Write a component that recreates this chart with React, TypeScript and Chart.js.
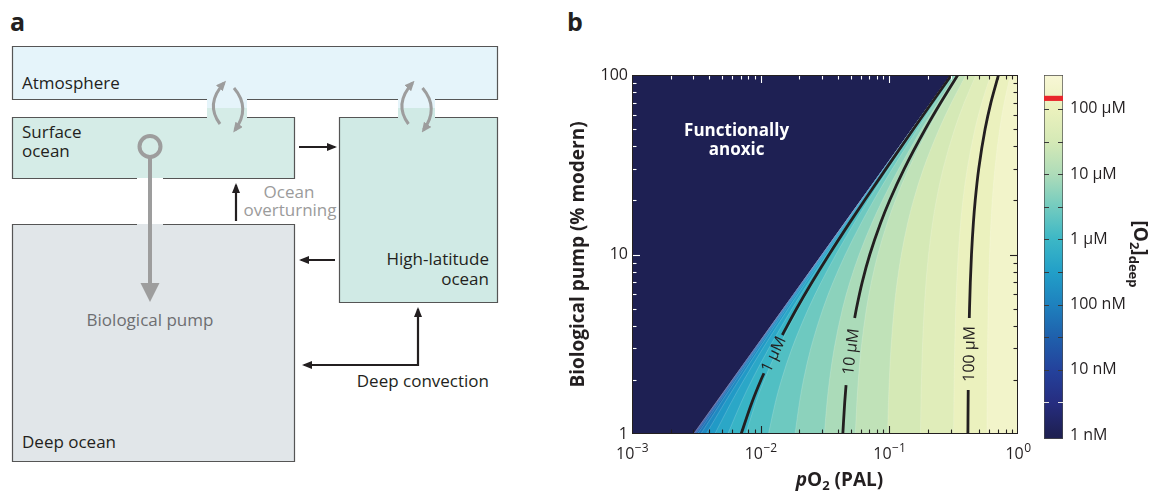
import React, { useEffect, useRef } from 'react';
import { Chart, registerables } from 'chart.js';

Chart.register(...registerables);

const FONT = "'Open Sans', 'Noto Sans', sans-serif";
const INK = '#231f20';
const NAVY = '#1e2053';

// ---------------- Panel b data ----------------
// Biological pump (% modern) at which each contour position was read
const pumpLevels = [1, 1.5, 2, 3, 5, 7, 10, 15, 20, 30, 50, 70, 100];

// filled-contour levels of [O2]deep (nM)
const contourLevelsNM = [1.55, 2.82, 5.15, 9.4, 17.1, 31.3, 57.0, 104, 190, 346, 631, 1151, 2100, 3830, 6980, 12700, 23200, 42400, 77300, 141000];
const fieldMaxNM = 246000;

// pO2 (PAL) of each contour level at each pump level
const contourPO2 = [
  [0.003006, 0.004506, 0.006006, 0.009006, 0.01501, 0.02101, 0.03001, 0.04501, 0.06001, 0.09001, 0.15001, 0.21001, 0.30001],
  [0.003011, 0.004511, 0.006011, 0.009011, 0.01501, 0.02101, 0.03001, 0.04501, 0.06001, 0.09001, 0.15001, 0.21001, 0.30001],
  [0.003021, 0.004521, 0.006021, 0.009021, 0.01502, 0.02102, 0.03002, 0.04502, 0.06002, 0.09002, 0.15002, 0.21002, 0.30002],
  [0.003038, 0.004538, 0.006038, 0.009038, 0.01504, 0.02104, 0.03004, 0.04504, 0.06004, 0.09004, 0.15004, 0.21004, 0.30004],
  [0.003069, 0.004569, 0.006069, 0.009069, 0.01507, 0.02107, 0.03007, 0.04507, 0.06007, 0.09007, 0.15007, 0.21007, 0.30007],
  [0.003127, 0.004627, 0.006127, 0.009127, 0.01513, 0.02113, 0.03013, 0.04513, 0.06013, 0.09013, 0.15013, 0.21013, 0.30013],
  [0.003231, 0.004731, 0.006231, 0.009231, 0.01523, 0.02123, 0.03023, 0.04523, 0.06023, 0.09023, 0.15023, 0.21023, 0.30023],
  [0.003421, 0.004921, 0.006421, 0.009421, 0.01542, 0.02142, 0.03042, 0.04542, 0.06042, 0.09042, 0.15042, 0.21042, 0.30042],
  [0.003769, 0.005269, 0.006769, 0.009769, 0.01577, 0.02177, 0.03077, 0.04577, 0.06077, 0.09077, 0.15077, 0.21077, 0.30077],
  [0.004401, 0.005901, 0.007401, 0.010401, 0.0164, 0.0224, 0.0314, 0.0464, 0.0614, 0.0914, 0.1514, 0.2114, 0.3014],
  [0.005555, 0.007055, 0.008555, 0.01156, 0.01756, 0.02356, 0.03256, 0.04756, 0.06256, 0.09256, 0.15256, 0.21256, 0.30256],
  [0.00766, 0.00916, 0.01066, 0.01366, 0.01966, 0.02566, 0.03466, 0.04966, 0.06466, 0.09466, 0.15466, 0.21466, 0.30466],
  [0.0115, 0.013, 0.0145, 0.0175, 0.0235, 0.0295, 0.0385, 0.0535, 0.0685, 0.0985, 0.1585, 0.2185, 0.3085],
  [0.01851, 0.02001, 0.02151, 0.02451, 0.03051, 0.03651, 0.04551, 0.06051, 0.07551, 0.1055, 0.1655, 0.2255, 0.3155],
  [0.03126, 0.03276, 0.03426, 0.03726, 0.04326, 0.04926, 0.05826, 0.07326, 0.08826, 0.1183, 0.1783, 0.2383, 0.3283],
  [0.0544, 0.0559, 0.0574, 0.0604, 0.0664, 0.0724, 0.0814, 0.0964, 0.1114, 0.1414, 0.2014, 0.2614, 0.3514],
  [0.0969, 0.0984, 0.0999, 0.1029, 0.1089, 0.1149, 0.1239, 0.1389, 0.1539, 0.1839, 0.2439, 0.3039, 0.3939],
  [0.1747, 0.1762, 0.1777, 0.1807, 0.1867, 0.1927, 0.2017, 0.2167, 0.2317, 0.2617, 0.3217, 0.3817, 0.4717],
  [0.316, 0.3175, 0.319, 0.322, 0.328, 0.334, 0.343, 0.358, 0.373, 0.403, 0.463, 0.523, 0.613],
  [0.5739, 0.5754, 0.5769, 0.5799, 0.5859, 0.5919, 0.6009, 0.6159, 0.6309, 0.6609, 0.7209, 0.7809, 0.8709],
];

// labelled black contours (split where the label sits)
const labelledNames = ['1 µM', '10 µM', '100 µM'];
const labelledLowerP = [[1, 1.5, 2, 2.18], [1, 1.5, 1.87], [1, 1.5, 1.76]];
const labelledLowerX = [[0.00705, 0.00855, 0.01005, 0.0106], [0.0435, 0.045, 0.0461], [0.408, 0.4095, 0.4103]];
const labelledUpperP = [
  [3.56, 5, 7, 10, 15, 20, 30, 50, 70, 100],
  [4.43, 5, 7, 10, 15, 20, 30, 50, 70, 100],
  [4.43, 5, 7, 10, 15, 20, 30, 50, 70, 100],
];
const labelledUpperX = [
  [0.01473, 0.01905, 0.02505, 0.03405, 0.04905, 0.06405, 0.09405, 0.154, 0.214, 0.304],
  [0.0538, 0.0555, 0.0615, 0.0705, 0.0855, 0.1005, 0.1305, 0.1905, 0.2505, 0.3405],
  [0.4183, 0.42, 0.426, 0.435, 0.45, 0.465, 0.495, 0.555, 0.615, 0.705],
];

// axes
const xRange = [0.001, 1];
const yRange = [1, 100];
const xTickValues = [0.001, 0.01, 0.1, 1];
const xTickExponents = ['−3', '−2', '−1', '0'];
const yTickValues = [1, 10, 100];
const yTickLabels = ['1', '10', '100'];
const anoxicLabelAt = { x: 0.0065, y: 44 };

// colour bar (nM)
const colorbarRange = [0.87, 331000];
const colorbarTickValues = [1, 10, 100, 1000, 10000, 100000];
const colorbarTickLabels = ['1 nM', '10 nM', '100 nM', '1 µM', '10 µM', '100 µM'];
const colorbarMinorTicks = [3.16, 10, 31.6, 100, 316, 1000, 3162, 10000, 31623, 100000];
const modernDeepO2 = [134000, 157000];

// ---------------- colour map (style) ----------------
const CMAP_STOPS: Array<[number, string]> = [
  [0.0, '#1e2053'], [0.5, '#262d80'], [1.0, '#24429c'], [1.5, '#1f60ac'], [2.0, '#1e81be'],
  [2.5, '#229fc8'], [3.0, '#3cb7c6'], [3.5, '#73cbbf'], [4.0, '#aedcb9'], [4.5, '#d5e9b6'],
  [5.0, '#ebf1bd'], [5.52, '#f8f7d6'],
];
function hexRgb(h: string) {
  return [parseInt(h.slice(1, 3), 16), parseInt(h.slice(3, 5), 16), parseInt(h.slice(5, 7), 16)];
}
function cmap(t: number): string {
  const s = CMAP_STOPS;
  if (t <= s[0][0]) return s[0][1];
  for (let i = 1; i < s.length; i++) {
    if (t <= s[i][0]) {
      const f = (t - s[i - 1][0]) / (s[i][0] - s[i - 1][0]);
      const a = hexRgb(s[i - 1][1]);
      const b = hexRgb(s[i][1]);
      const c = a.map((v, k) => Math.round(v + (b[k] - v) * f));
      return `rgb(${c[0]},${c[1]},${c[2]})`;
    }
  }
  return s[s.length - 1][1];
}

// ---------------- main chart ----------------
function buildMainConfig(): any {
  const n = contourPO2.length;
  const bands = contourPO2.map((xs, j) => {
    const lo = Math.log10(contourLevelsNM[j]);
    const hi = Math.log10(j + 1 < n ? contourLevelsNM[j + 1] : fieldMaxNM);
    return {
      data: pumpLevels.map((p, i) => ({ x: xs[i], y: p })),
      borderColor: 'rgba(255,255,255,0.28)',
      borderWidth: 0.6,
      backgroundColor: cmap((lo + hi) / 2),
      fill: { value: xRange[1] },
      pointRadius: 0,
      cubicInterpolationMode: 'monotone',
      clip: 0,
      order: 1 + (n - 1 - j),
    };
  });
  const lines: any[] = [];
  labelledNames.forEach((_, k) => {
    const segs = [
      [labelledLowerP[k], labelledLowerX[k]],
      [labelledUpperP[k], labelledUpperX[k]],
    ];
    segs.forEach(([ps, xs]) => {
      lines.push({
        data: ps.map((p, i) => ({ x: xs[i], y: p })),
        borderColor: INK,
        borderWidth: 2.8,
        fill: false,
        pointRadius: 0,
        cubicInterpolationMode: 'monotone',
        clip: 0,
        order: 0,
      });
    });
  });

  const decor = {
    id: 'mainDecor',
    beforeDatasetsDraw(chart: any) {
      const { ctx, chartArea: a } = chart;
      ctx.save();
      ctx.fillStyle = NAVY;
      ctx.fillRect(a.left, a.top, a.right - a.left, a.bottom - a.top);
      ctx.restore();
    },
    afterDatasetsDraw(chart: any) {
      const { ctx, chartArea: a, scales } = chart;
      const xs = scales.x;
      const ys = scales.y;
      ctx.save();
      // contour labels
      ctx.font = `16px ${FONT}`;
      ctx.fillStyle = INK;
      ctx.textAlign = 'center';
      ctx.textBaseline = 'middle';
      labelledNames.forEach((name, k) => {
        const lp = labelledLowerP[k];
        const lx = labelledLowerX[k];
        const x1 = xs.getPixelForValue(lx[lx.length - 1]);
        const y1 = ys.getPixelForValue(lp[lp.length - 1]);
        const x2 = xs.getPixelForValue(labelledUpperX[k][0]);
        const y2 = ys.getPixelForValue(labelledUpperP[k][0]);
        ctx.save();
        ctx.translate((x1 + x2) / 2, (y1 + y2) / 2);
        ctx.rotate(Math.atan2(y2 - y1, x2 - x1));
        ctx.fillText(name, 0, 1);
        ctx.restore();
      });
      // functionally anoxic
      const ax = xs.getPixelForValue(anoxicLabelAt.x);
      const ay = ys.getPixelForValue(anoxicLabelAt.y);
      ctx.fillStyle = '#ffffff';
      ctx.font = `bold 17px ${FONT}`;
      ctx.textBaseline = 'alphabetic';
      ctx.fillText('Functionally', ax, ay - 3.5);
      ctx.fillText('anoxic', ax, ay + 15.5);

      // inward ticks
      const tick = (x1: number, y1: number, x2: number, y2: number, c: string) => {
        ctx.strokeStyle = c;
        ctx.beginPath();
        ctx.moveTo(x1, y1);
        ctx.lineTo(x2, y2);
        ctx.stroke();
      };
      ctx.lineWidth = 1.1;
      const navyTop = contourPO2[0][pumpLevels.length - 1];
      const xt: Array<[number, boolean]> = [];
      for (let e = -3; e < 0; e++) {
        for (let m = 1; m <= 9; m++) {
          const v = m * Math.pow(10, e);
          if (v > xRange[0] * 1.0001) xt.push([v, m === 1]);
        }
      }
      xt.forEach(([v, major]) => {
        const len = major ? 8 : 4.5;
        const px = Math.round(xs.getPixelForValue(v)) + 0.5;
        tick(px, a.bottom, px, a.bottom - len, INK);
        tick(px, a.top, px, a.top + len, v < navyTop ? '#ffffff' : INK);
      });
      const yt: Array<[number, boolean]> = [];
      for (let e = 0; e < 2; e++) {
        for (let m = 1; m <= 9; m++) {
          const v = m * Math.pow(10, e);
          if (v > yRange[0] * 1.0001) yt.push([v, m === 1]);
        }
      }
      yt.forEach(([v, major]) => {
        const len = major ? 8 : 4.5;
        const py = Math.round(ys.getPixelForValue(v)) + 0.5;
        tick(a.left, py, a.left + len, py, '#ffffff');
        tick(a.right, py, a.right - len, py, INK);
      });
      ctx.strokeStyle = INK;
      ctx.lineWidth = 1;
      ctx.strokeRect(a.left + 0.5, a.top + 0.5, a.right - a.left - 1, a.bottom - a.top - 1);
      ctx.restore();
    },
    afterDraw(chart: any) {
      const { ctx, chartArea: a, scales } = chart;
      ctx.save();
      ctx.fillStyle = INK;
      ctx.textAlign = 'left';
      ctx.textBaseline = 'alphabetic';
      xTickValues.forEach((v, i) => {
        const px = scales.x.getPixelForValue(v);
        ctx.font = `16px ${FONT}`;
        const wb = ctx.measureText('10').width;
        ctx.font = `12px ${FONT}`;
        const we = ctx.measureText(xTickExponents[i]).width;
        const x0 = px - (wb + we) / 2;
        ctx.font = `16px ${FONT}`;
        ctx.fillText('10', x0, a.bottom + 24.5);
        ctx.font = `12px ${FONT}`;
        ctx.fillText(xTickExponents[i], x0 + wb + 0.5, a.bottom + 17.5);
      });
      // x title: pO2 (PAL)
      const parts: Array<[string, string, number]> = [
        ['p', `italic bold 19px ${FONT}`, 0],
        ['O', `bold 19px ${FONT}`, 0],
        ['2', `bold 13px ${FONT}`, 4],
        [' (PAL)', `bold 19px ${FONT}`, 0],
      ];
      let total = 0;
      const widths = parts.map(([t, f]) => {
        ctx.font = f;
        const w = ctx.measureText(t).width;
        total += w;
        return w;
      });
      let x = (a.left + a.right) / 2 + 14.5 - total / 2;
      const base = a.bottom + 51.5;
      parts.forEach(([t, f, dy], i) => {
        ctx.font = f;
        ctx.fillText(t, x, base + dy);
        x += widths[i];
      });
      ctx.restore();
    },
  };

  return {
    type: 'line',
    data: { datasets: [...lines, ...bands] },
    options: {
      animation: false,
      responsive: false,
      maintainAspectRatio: false,
      indexAxis: 'y',
      events: [],
      layout: { padding: { left: 20, right: 22, top: 75, bottom: 0 } },
      plugins: { legend: { display: false }, tooltip: { enabled: false } },
      elements: { point: { radius: 0 } },
      scales: {
        x: {
          type: 'logarithmic',
          position: 'bottom',
          min: xRange[0],
          max: xRange[1],
          grid: { display: false, drawTicks: false },
          border: { display: false },
          ticks: { display: false },
          afterFit: (s: any) => { s.height = 57; },
        },
        y: {
          type: 'logarithmic',
          position: 'left',
          min: yRange[0],
          max: yRange[1],
          grid: { display: false, drawTicks: false },
          border: { display: false },
          afterBuildTicks: (s: any) => { s.ticks = yTickValues.map((v) => ({ value: v })); },
          ticks: {
            padding: 4,
            color: INK,
            font: { family: FONT, size: 16 },
            callback: (_v: any, i: number) => yTickLabels[i],
          },
          title: {
            display: true,
            text: 'Biological pump (% modern)',
            color: INK,
            font: { family: FONT, size: 19, weight: 'bold' },
            padding: { top: 7, bottom: 0 },
          },
          afterFit: (s: any) => { s.width = 72; },
        },
      },
    },
    plugins: [decor],
  };
}

// ---------------- colour bar chart ----------------
function buildColorbarConfig(): any {
  const gradientFill = (c: any) => {
    const chart = c.chart;
    const ys = chart.scales && chart.scales.y;
    if (!chart.chartArea || !ys) return NAVY;
    const y0 = ys.getPixelForValue(colorbarRange[0]);
    const y1 = ys.getPixelForValue(colorbarRange[1]);
    const g = chart.ctx.createLinearGradient(0, y0, 0, y1);
    CMAP_STOPS.forEach(([t, col]) => {
      const py = ys.getPixelForValue(Math.pow(10, t));
      const off = Math.min(1, Math.max(0, (y0 - py) / (y0 - y1)));
      g.addColorStop(off, col);
    });
    return g;
  };
  const decor = {
    id: 'cbDecor',
    afterDatasetsDraw(chart: any) {
      const { ctx, chartArea: a, scales } = chart;
      ctx.save();
      ctx.lineWidth = 1.2;
      colorbarMinorTicks.forEach((v) => {
        const py = Math.round(scales.y.getPixelForValue(v)) + 0.5;
        ctx.strokeStyle = v < 5 ? '#e4e4e4' : '#3a3a3a';
        ctx.beginPath();
        ctx.moveTo(a.left, py);
        ctx.lineTo(a.left + 5, py);
        ctx.moveTo(a.right - 5, py);
        ctx.lineTo(a.right, py);
        ctx.stroke();
      });
      ctx.restore();
    },
    afterDraw(chart: any) {
      const { ctx, chartArea: a } = chart;
      ctx.save();
      const parts: Array<[string, string, number]> = [
        ['[O', `bold 19px ${FONT}`, 0],
        ['2', `bold 13px ${FONT}`, 4],
        [']', `bold 19px ${FONT}`, 0],
        ['deep', `bold 13px ${FONT}`, 5],
      ];
      let total = 0;
      const widths = parts.map(([t, f]) => {
        ctx.font = f;
        const w = ctx.measureText(t).width;
        total += w;
        return w;
      });
      ctx.translate(94, (a.top + a.bottom) / 2 - 3);
      ctx.rotate(Math.PI / 2);
      ctx.fillStyle = INK;
      ctx.textBaseline = 'alphabetic';
      ctx.textAlign = 'left';
      let x = -total / 2;
      parts.forEach(([t, f, dy], i) => {
        ctx.font = f;
        ctx.fillText(t, x, dy);
        x += widths[i];
      });
      ctx.restore();
    },
  };
  return {
    type: 'bar',
    data: {
      labels: [''],
      datasets: [
        {
          data: [colorbarRange],
          backgroundColor: gradientFill,
          borderColor: '#4a4a4a',
          borderWidth: 1,
          borderSkipped: false,
          grouped: false,
          barPercentage: 1,
          categoryPercentage: 1,
          order: 1,
        },
        {
          data: [modernDeepO2],
          backgroundColor: '#e8262b',
          borderWidth: 0,
          grouped: false,
          barPercentage: 1,
          categoryPercentage: 1,
          order: 0,
        },
      ],
    },
    options: {
      animation: false,
      responsive: false,
      maintainAspectRatio: false,
      events: [],
      layout: { padding: { left: 4, right: 16, top: 75, bottom: 52 } },
      plugins: { legend: { display: false }, tooltip: { enabled: false } },
      scales: {
        x: { display: false },
        y: {
          type: 'logarithmic',
          position: 'right',
          min: colorbarRange[0],
          max: colorbarRange[1],
          grid: { display: false, drawTicks: false },
          border: { display: false },
          afterBuildTicks: (s: any) => { s.ticks = colorbarTickValues.map((v) => ({ value: v })); },
          ticks: {
            padding: 7,
            color: INK,
            font: { family: FONT, size: 16 },
            callback: (_v: any, i: number) => colorbarTickLabels[i],
          },
          afterFit: (s: any) => { s.width = 80; },
        },
      },
    },
    plugins: [decor],
  };
}

// ---------------- Panel a (schematic) ----------------
function PanelA() {
  const t: any = { fontFamily: FONT, fontSize: 17, fill: INK };
  const gray = '#9d9d9d';
  const edge = '#555555';
  return (
    <svg width={1159} height={491} style={{ position: 'absolute', left: 0, top: 0 }}>
      <defs>
        <marker id="hb" viewBox="0 0 10 8" refX="8" refY="4" markerWidth="10" markerHeight="8" markerUnits="userSpaceOnUse" orient="auto">
          <path d="M0,0 L10,4 L0,8 z" fill={INK} />
        </marker>
        <marker id="hbr" viewBox="0 0 10 8" refX="8" refY="4" markerWidth="10" markerHeight="8" markerUnits="userSpaceOnUse" orient="auto-start-reverse">
          <path d="M0,0 L10,4 L0,8 z" fill={INK} />
        </marker>
        <marker id="hg" viewBox="0 0 10 9" refX="7" refY="4.5" markerWidth="10" markerHeight="9" markerUnits="userSpaceOnUse" orient="auto">
          <path d="M0,0 L10,4.5 L0,9 z" fill={gray} />
        </marker>
      </defs>
      {/* fills */}
      <rect x={12} y={46} width={486} height={53} fill="#e5f4fa" />
      <rect x={207} y={99} width={40} height={9} fill="#e5f4fa" />
      <rect x={398} y={99} width={37} height={9} fill="#e5f4fa" />
      <rect x={207} y={108} width={40} height={9} fill="#d5ece7" />
      <rect x={398} y={108} width={37} height={9} fill="#d0eae5" />
      <rect x={12} y={117} width={283} height={61} fill="#d5ece7" />
      <rect x={339} y={117} width={159} height={186} fill="#d0eae5" />
      <rect x={12} y={224} width={283} height={238} fill="#e1e6e9" />
      {/* borders with gaps */}
      <g fill="none" stroke={edge} strokeWidth={1.2}>
        <path d="M207,99.5 H12.5 V46.5 H497.5 V99.5 H435 M398,99.5 H247" />
        <path d="M207,117.5 H12.5 V178.5 H137 M163,178.5 H294.5 V117.5 H247" />
        <path d="M398,117.5 H339.5 V302.5 H497.5 V117.5 H435" />
        <path d="M137,224.5 H12.5 V461.5 H294.5 V224.5 H163" />
      </g>
      {/* air-sea exchange */}
      <g fill="none" stroke={gray} strokeWidth={3}>
        <path d="M220,124 Q205,104 224,83" markerEnd="url(#hg)" />
        <path d="M234,88 Q251,108 235,130" markerEnd="url(#hg)" />
        <path d="M408.5,124 Q393.5,104 412.5,83" markerEnd="url(#hg)" />
        <path d="M422.5,88 Q439.5,108 423.5,130" markerEnd="url(#hg)" />
      </g>
      {/* biological pump */}
      <circle cx={150} cy={146.5} r={10.5} fill="none" stroke={gray} strokeWidth={4} />
      <line x1={150} y1={157} x2={150} y2={285} stroke={gray} strokeWidth={4} />
      <polygon points="140.5,283 159.5,283 150,302" fill={gray} />
      {/* circulation arrows */}
      <g fill="none" stroke={INK} strokeWidth={2.2}>
        <line x1={299} y1={147} x2={335} y2={147} markerEnd="url(#hb)" />
        <line x1={236} y1={221} x2={236} y2={185} markerEnd="url(#hb)" />
        <line x1={335} y1={260} x2={301} y2={260} markerEnd="url(#hb)" />
        <path d="M418,309 L418,365 L304,365" markerStart="url(#hbr)" markerEnd="url(#hb)" />
      </g>
      {/* labels */}
      <text x={10} y={31} {...t} fontSize={25} fontWeight="bold">a</text>
      <text x={567} y={31} {...t} fontSize={25} fontWeight="bold">b</text>
      <text x={22} y={89} {...t}>Atmosphere</text>
      <text x={22} y={138} {...t}>Surface</text>
      <text x={22} y={157} {...t}>ocean</text>
      <text x={289} y={198} {...t} fill="#9b9b9b" textAnchor="middle">Ocean</text>
      <text x={290} y={216} {...t} fill="#9b9b9b" textAnchor="middle">overturning</text>
      <text x={489} y={265} {...t} textAnchor="end">High-latitude</text>
      <text x={489} y={285} {...t} textAnchor="end">ocean</text>
      <text x={150} y={326} {...t} fill="#6d6e71" textAnchor="middle">Biological pump</text>
      <text x={489} y={387} {...t} textAnchor="end">Deep convection</text>
      <text x={22} y={448} {...t}>Deep ocean</text>
    </svg>
  );
}

export default function App() {
  const mainRef = useRef<HTMLCanvasElement>(null);
  const cbRef = useRef<HTMLCanvasElement>(null);
  useEffect(() => {
    const c1 = new Chart(mainRef.current as HTMLCanvasElement, buildMainConfig());
    const c2 = new Chart(cbRef.current as HTMLCanvasElement, buildColorbarConfig());
    return () => {
      c1.destroy();
      c2.destroy();
    };
  }, []);
  return (
    <div style={{ position: 'absolute', left: 0, top: 0, width: 1159, height: 491, background: '#ffffff', overflow: 'hidden' }}>
      <PanelA />
      <div style={{ position: 'absolute', left: 540, top: 0, width: 500, height: 491 }}>
        <canvas ref={mainRef} width={500} height={491} style={{ width: 500, height: 491, display: 'block' }} />
      </div>
      <div style={{ position: 'absolute', left: 1040, top: 0, width: 119, height: 491 }}>
        <canvas ref={cbRef} width={119} height={491} style={{ width: 119, height: 491, display: 'block' }} />
      </div>
    </div>
  );
}
